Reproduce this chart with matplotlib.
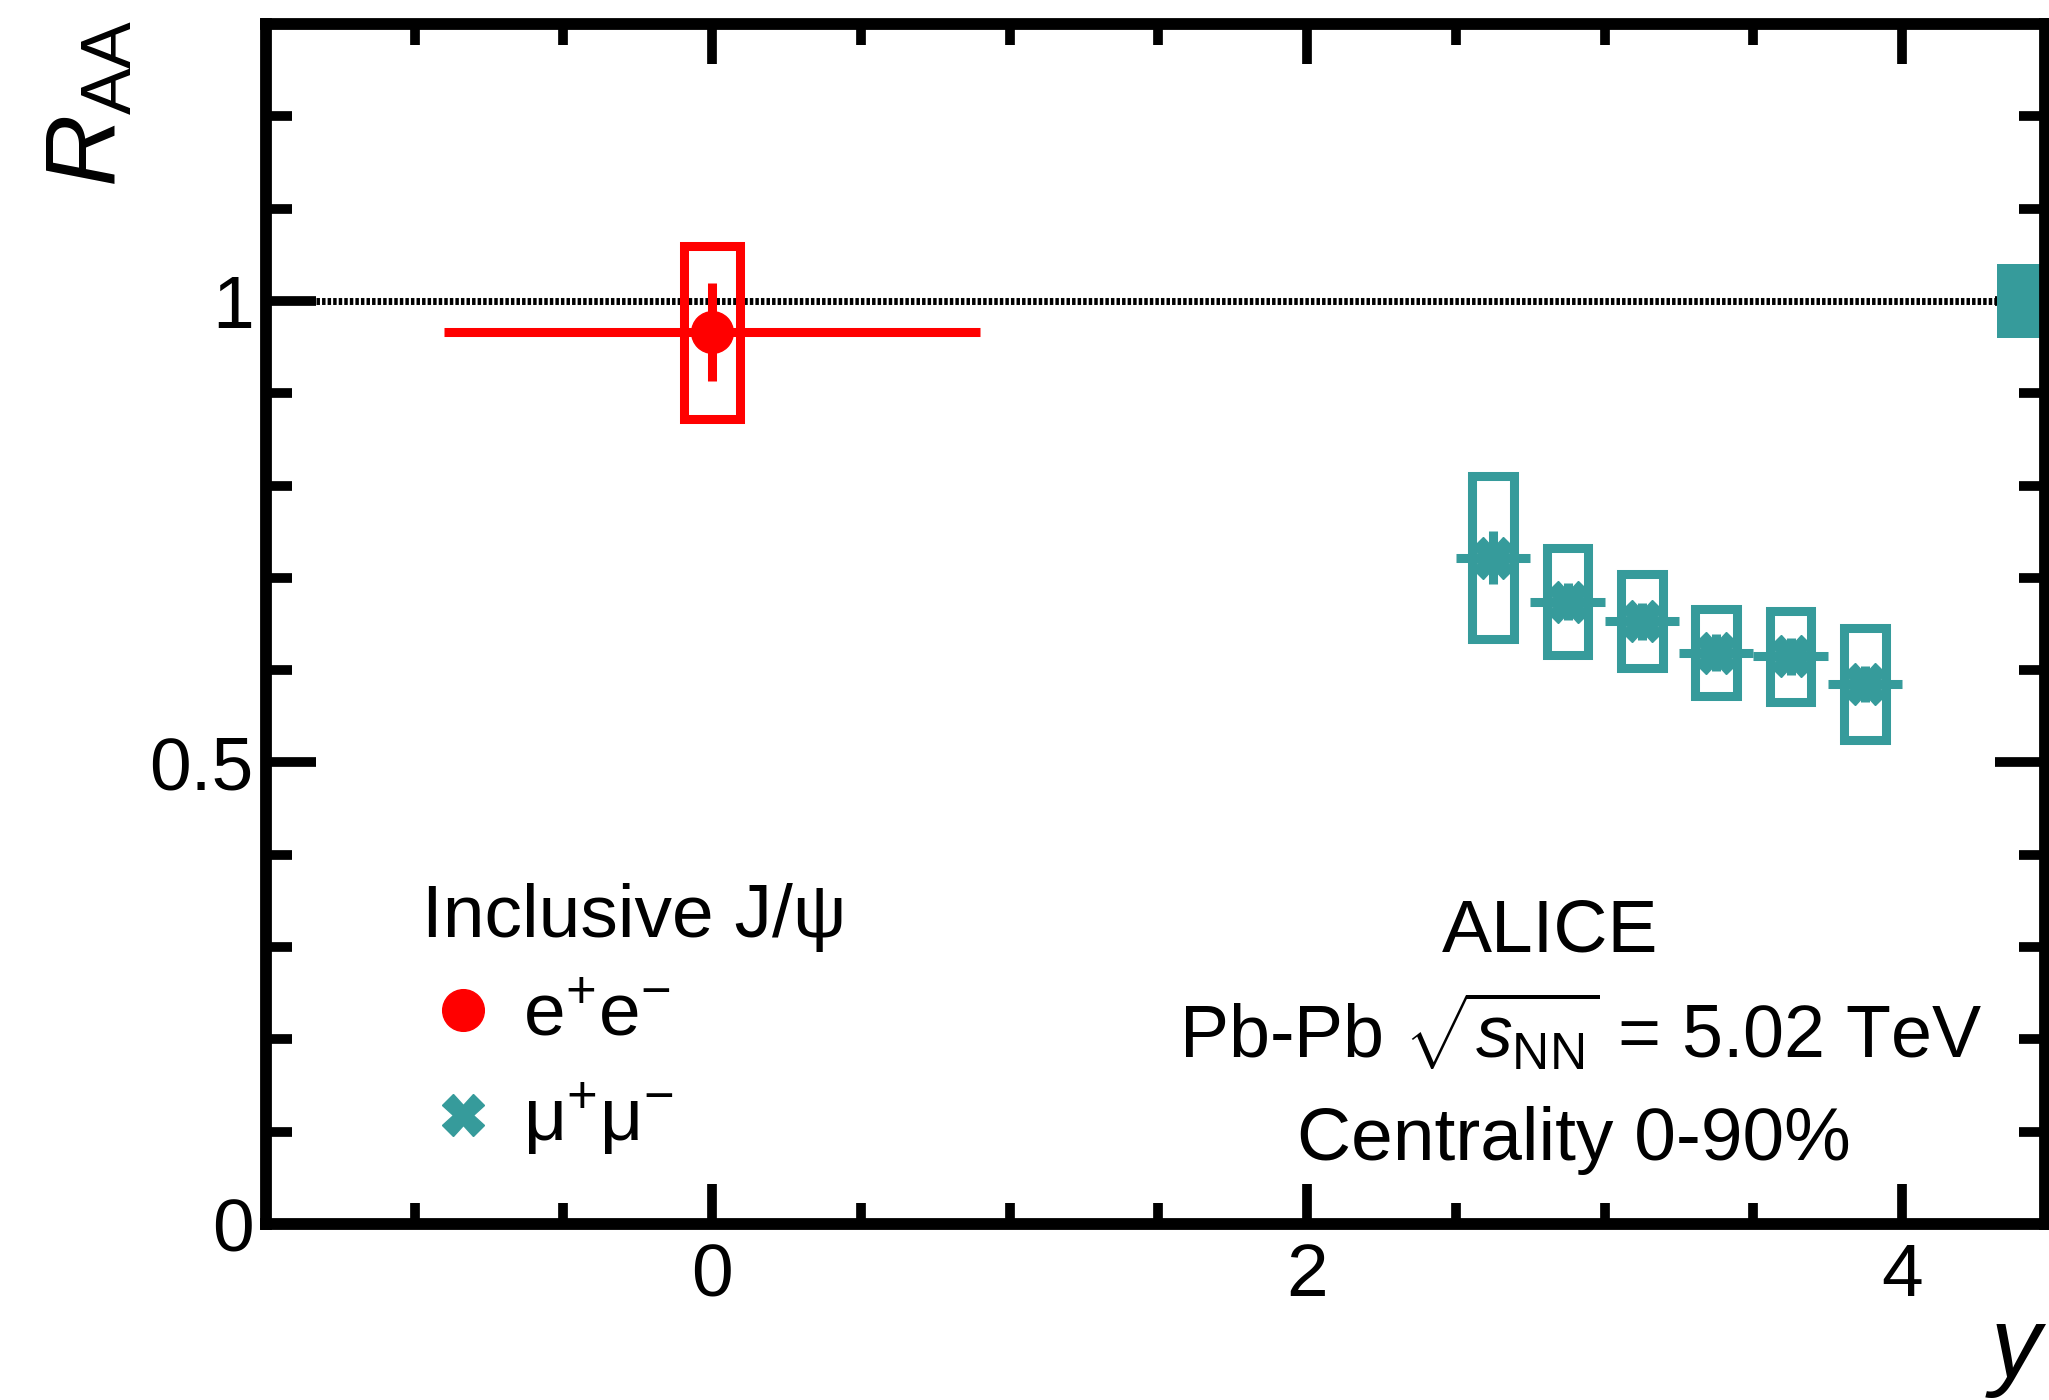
"""ALICE inclusive J/psi R_AA vs rapidity, Pb-Pb 5.02 TeV (0-90%)."""
import matplotlib

matplotlib.use("Agg")
import matplotlib.pyplot as plt  # noqa: E402
from matplotlib.lines import Line2D  # noqa: E402
from matplotlib.patches import Rectangle  # noqa: E402
from matplotlib.ticker import FuncFormatter, MultipleLocator  # noqa: E402

plt.rcParams["font.family"] = ["Liberation Sans", "DejaVu Sans"]
plt.rcParams["mathtext.fontset"] = "custom"
plt.rcParams["mathtext.rm"] = "Liberation Sans"
plt.rcParams["mathtext.it"] = "Liberation Sans:italic"
plt.rcParams["mathtext.bf"] = "Liberation Sans:bold"

RED = "#ff0000"
TEAL = "#369b9b"

# --- data: e+e- channel (midrapidity) ---
ee_y = [0.0]
ee_raa = [0.966]
ee_yerr = [0.9]
ee_stat = [0.053]
ee_syst = [0.094]

# --- data: mu+mu- channel (forward rapidity) ---
mm_y = [2.625, 2.875, 3.125, 3.375, 3.625, 3.875]
mm_raa = [0.722, 0.674, 0.653, 0.619, 0.615, 0.585]
mm_yerr = [0.125, 0.125, 0.125, 0.125, 0.125, 0.125]
mm_stat = [0.029, 0.020, 0.020, 0.020, 0.020, 0.020]
mm_syst = [0.088, 0.058, 0.051, 0.047, 0.049, 0.061]
mm_global = 0.04  # correlated uncertainty, box at R_AA = 1

ee_box_hw = 0.095
mm_box_hw = 0.07

fig = plt.figure(figsize=(20.49, 14.0), dpi=100)
ax = fig.add_axes([266 / 2049, 1 - 1224 / 1400, (2045 - 266) / 2049, 1200 / 1400])

ax.axhline(1.0, color="black", lw=5, dashes=(0.5, 0.3), zorder=1)

# unity-line global box (right edge)
ax.add_patch(Rectangle((4.32, 1 - mm_global), 0.4, 2 * mm_global,
                       facecolor=TEAL, edgecolor="none", zorder=2))

# systematic boxes
for x, v, s in zip(ee_y, ee_raa, ee_syst):
    ax.add_patch(Rectangle((x - ee_box_hw, v - s), 2 * ee_box_hw, 2 * s,
                           fill=False, edgecolor=RED, lw=6.5, zorder=3))
for x, v, s in zip(mm_y, mm_raa, mm_syst):
    ax.add_patch(Rectangle((x - mm_box_hw, v - s), 2 * mm_box_hw, 2 * s,
                           fill=False, edgecolor=TEAL, lw=6.5, zorder=3))

ax.errorbar(ee_y, ee_raa, xerr=ee_yerr, yerr=ee_stat, fmt="o", color=RED,
            ms=30, elinewidth=6.5, capsize=0, zorder=4)
ax.errorbar(mm_y, mm_raa, xerr=mm_yerr, yerr=mm_stat, fmt="X", color=TEAL,
            ms=30, elinewidth=6.5, capsize=0, zorder=4)

ax.set_xlim(-1.5, 4.48)
ax.set_ylim(0, 1.3)
ax.xaxis.set_major_locator(MultipleLocator(2))
ax.xaxis.set_minor_locator(MultipleLocator(0.5))
ax.yaxis.set_major_locator(MultipleLocator(0.5))
ax.yaxis.set_minor_locator(MultipleLocator(0.1))
fmt = FuncFormatter(lambda v, _: f"{v:g}")
ax.xaxis.set_major_formatter(fmt)
ax.yaxis.set_major_formatter(fmt)

for sp in ax.spines.values():
    sp.set_linewidth(8.5)
ax.tick_params(which="both", direction="in", top=True, right=True,
               width=7, labelsize=54)
ax.tick_params(axis="x", which="major", length=29, pad=13)
ax.tick_params(axis="x", which="minor", length=15)
ax.tick_params(axis="y", which="major", length=36, pad=9)
ax.tick_params(axis="y", which="minor", length=19)

# axis titles, ROOT style at the ends
fig.text(43 / 2049, 1 - 20 / 1400, r"$R_{\rm AA}$", rotation=90,
         ha="left", va="top", fontsize=72)
fig.text(1985 / 2049, 1 - 1377 / 1400, r"$y$", ha="left", va="baseline",
         fontsize=72)

# legend
handles = [
    Line2D([], [], ls="none", marker="o", ms=30, color=RED),
    Line2D([], [], ls="none", marker="X", ms=30, color=TEAL),
]
labels = [r"e$^{+}$e$^{-}$", r"$\mathrm{\mu}^{+}\mathrm{\mu}^{-}$"]
leg = ax.legend(handles, labels, title="Inclusive J/\u03c8", loc="upper left",
                bbox_to_anchor=(156 / 1779, 341 / 1200), frameon=False,
                fontsize=54, title_fontsize=54, alignment="left",
                borderpad=0, borderaxespad=0, handlelength=1.1,
                handletextpad=0.25, labelspacing=0.4)

# collaboration / system info
ax.text(2.817, 0.295, "ALICE", ha="center", va="baseline", fontsize=54)
ax.text(2.918, 0.180, r"Pb-Pb $\sqrt{s_{\rm NN}}$ = 5.02 TeV", ha="center",
        va="baseline", fontsize=53)
ax.text(2.898, 0.069, "Centrality 0-90%", ha="center", va="baseline",
        fontsize=54)

fig.savefig("out.png", dpi=100, facecolor="white")
